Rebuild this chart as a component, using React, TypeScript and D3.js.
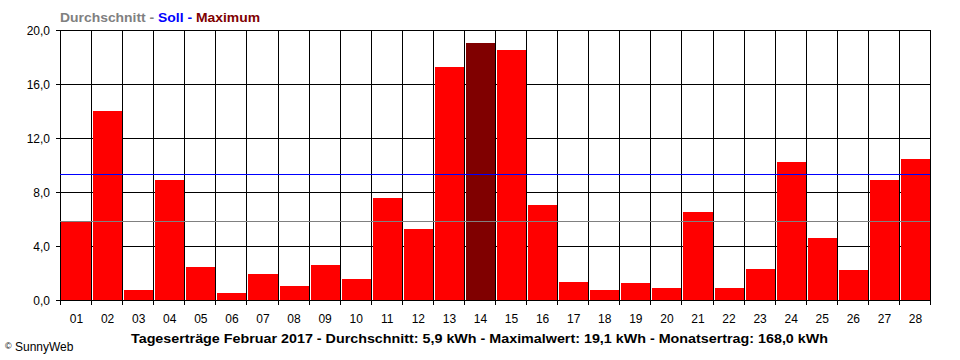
import * as d3 from "d3";
import React from "react";

const days = ["01","02","03","04","05","06","07","08","09","10","11","12","13","14","15","16","17","18","19","20","21","22","23","24","25","26","27","28"];
const yields = [5.85, 14.0, 0.74, 8.9, 2.47, 0.54, 1.95, 1.06, 2.6, 1.55, 7.55, 5.26, 17.28, 19.06, 18.54, 7.04, 1.33, 0.74, 1.26, 0.91, 6.52, 0.91, 2.32, 10.2, 4.6, 2.24, 8.9, 10.47];
const yTicks = [0, 4, 8, 12, 16, 20];
const average = 5.85;
const target = 9.33;
const caption = "Tageserträge Februar 2017 - Durchschnitt: 5,9 kWh - Maximalwert: 19,1 kWh - Monatsertrag: 168,0 kWh";

const W = 960;
const H = 360;
const left = 60;
const right = 930;
const top = 30;
const bottom = 300;
const font = "'Liberation Sans', Arial, sans-serif";

const App = () => {
  const x = d3.scaleBand<string>().domain(days).range([left, right]).padding(0);
  const y = d3.scaleLinear().domain([0, 20]).range([bottom, top]);
  const maxVal = d3.max(yields) || 0;
  const bw = x.bandwidth();
  const px = (v: number) => Math.round(v) + 0.5;

  const boundaries = d3.range(days.length + 1).map((i) => left + i * bw);

  return (
    <svg width={W} height={H} style={{ position: "absolute", left: 0, top: 0, background: "#fff" }}>
      <rect x={0} y={0} width={W} height={H} fill="#fff" />
      {/* horizontal grid */}
      {yTicks.map((t) => (
        <g key={t}>
          <line x1={56} x2={right} y1={px(y(t))} y2={px(y(t))} stroke="#000" />
          <text x={50} y={y(t) + 5} textAnchor="end" fontFamily={font} fontSize={12} fill="#000">
            {d3.format(".1f")(t).replace(".", ",")}
          </text>
        </g>
      ))}
      {/* vertical grid + ticks */}
      {boundaries.map((b, i) => (
        <line key={i} x1={px(b)} x2={px(b)} y1={top} y2={305} stroke="#000" />
      ))}
      {/* bars */}
      {yields.map((v, i) => {
        const x0 = Math.round(x(days[i]) as number) + (i === 0 ? 1 : 2);
        const x1 = Math.round((x(days[i]) as number) + bw) - 1;
        const yt = Math.round(y(v));
        return (
          <rect
            key={days[i]}
            x={x0}
            y={yt}
            width={x1 - x0 + 1}
            height={bottom - yt}
            fill={v === maxVal ? "#800000" : "#ff0000"}
          />
        );
      })}
      {/* axis line on top */}
      <line x1={56} x2={right} y1={px(y(0))} y2={px(y(0))} stroke="#000" />
      {/* average and target lines */}
      <line x1={left} x2={right} y1={px(y(average))} y2={px(y(average))} stroke="#808080" />
      <line x1={left} x2={right} y1={px(y(target))} y2={px(y(target))} stroke="#0000ff" />
      {/* x labels */}
      {days.map((d) => (
        <text key={d} x={(x(d) as number) + bw / 2 + 1} y={323} textAnchor="middle" fontFamily={font} fontSize={12} fill="#000">
          {d}
        </text>
      ))}
      {/* legend title */}
      <text x={60} y={22} fontFamily={font} fontSize={13} fontWeight="bold" textLength={200} lengthAdjust="spacingAndGlyphs">
        <tspan fill="#808080">Durchschnitt -</tspan>
        <tspan fill="#0000ff"> Soll -</tspan>
        <tspan fill="#800000"> Maximum</tspan>
      </text>
      {/* caption */}
      <text x={131} y={343} fontFamily={font} fontSize={13} fontWeight="bold" fill="#000" textLength={697} lengthAdjust="spacingAndGlyphs">
        {caption}
      </text>
      <text x={5} y={351} fontFamily={font} fontSize={12} fill="#000">
        <tspan fontSize={9} dy={-2}>©</tspan>
        <tspan dy={2}> SunnyWeb</tspan>
      </text>
    </svg>
  );
};

export default App;
